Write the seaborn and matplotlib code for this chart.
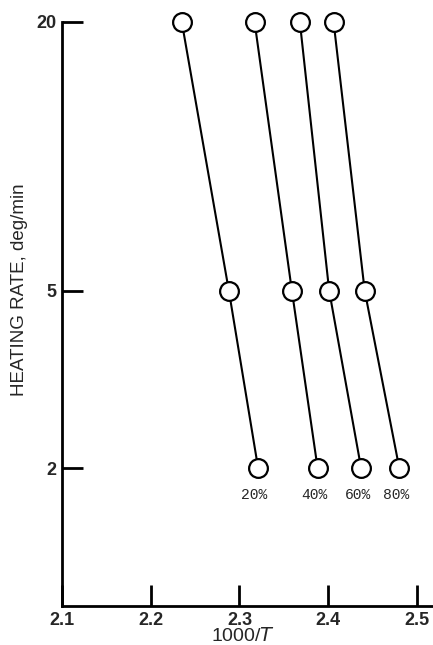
import numpy as np
import pandas as pd
import matplotlib
matplotlib.use("Agg")
import matplotlib.pyplot as plt
import seaborn as sns

# --- data ---
rates = [20, 5, 2]
x_20 = [2.235, 2.288, 2.321]
x_40 = [2.317, 2.359, 2.388]
x_60 = [2.368, 2.401, 2.437]
x_80 = [2.406, 2.441, 2.480]
series_labels = ["20%", "40%", "60%", "80%"]
x_ticks = [2.1, 2.2, 2.3, 2.4, 2.5]
y_ticks = [2, 5, 20]

rows = []
for lab, xs in zip(series_labels, [x_20, x_40, x_60, x_80]):
    for x, r in zip(xs, rates):
        rows.append({"conv": lab, "inv_T": x, "rate": r})
df = pd.DataFrame(rows)

sns.set_style("ticks")
plt.rcParams['font.family'] = ['Liberation Sans', 'DejaVu Sans']

fig = plt.figure(figsize=(4.33, 6.45), dpi=100)
ax = fig.add_axes([0.143, 0.06, 0.855, 0.906])

sns.lineplot(data=df, x="inv_T", y="rate", hue="conv", units="conv",
             estimator=None, sort=False, palette=["black"] * 4,
             legend=False, ax=ax, linewidth=1.5,
             marker="o", markersize=13.5, markerfacecolor="white",
             markeredgecolor="black", markeredgewidth=1.6, clip_on=False)
for ln in ax.lines:
    ln.set_zorder(5)

ax.set_yscale("log")
ax.set_xlim(2.1, 2.517)
ax.set_ylim(0.98, 20)
ax.set_xticks(x_ticks)
ax.set_xticklabels([f"{v:.1f}" for v in x_ticks], fontweight="bold", fontsize=13)
ax.set_yticks(y_ticks)
ax.set_yticklabels([str(v) for v in y_ticks], fontweight="bold", fontsize=13)
ax.yaxis.set_minor_locator(matplotlib.ticker.NullLocator())
ax.tick_params(axis="both", direction="in", length=15, width=2, color="black")
ax.tick_params(axis="x", pad=4)
ax.tick_params(axis="y", pad=4)

sns.despine(ax=ax)
for s in ["left", "bottom"]:
    ax.spines[s].set_linewidth(2)
    ax.spines[s].set_color("black")

ax.set_ylabel("HEATING RATE, deg/min", fontsize=13.5, va="center")
ax.yaxis.set_label_coords(-0.114, 0.541)
ax.set_xlabel("1000/$\\mathit{T}$", fontsize=14, va="top")
ax.xaxis.set_label_coords(0.489, -0.036)

# percent labels under the bottom points
for lab, xs in zip(series_labels, [x_20, x_40, x_60, x_80]):
    ax.text(xs[-1] - 0.004, 1.74, lab, ha="center", va="center",
            fontsize=10.5, family="Liberation Mono")

fig.savefig("out.png", dpi=100)
